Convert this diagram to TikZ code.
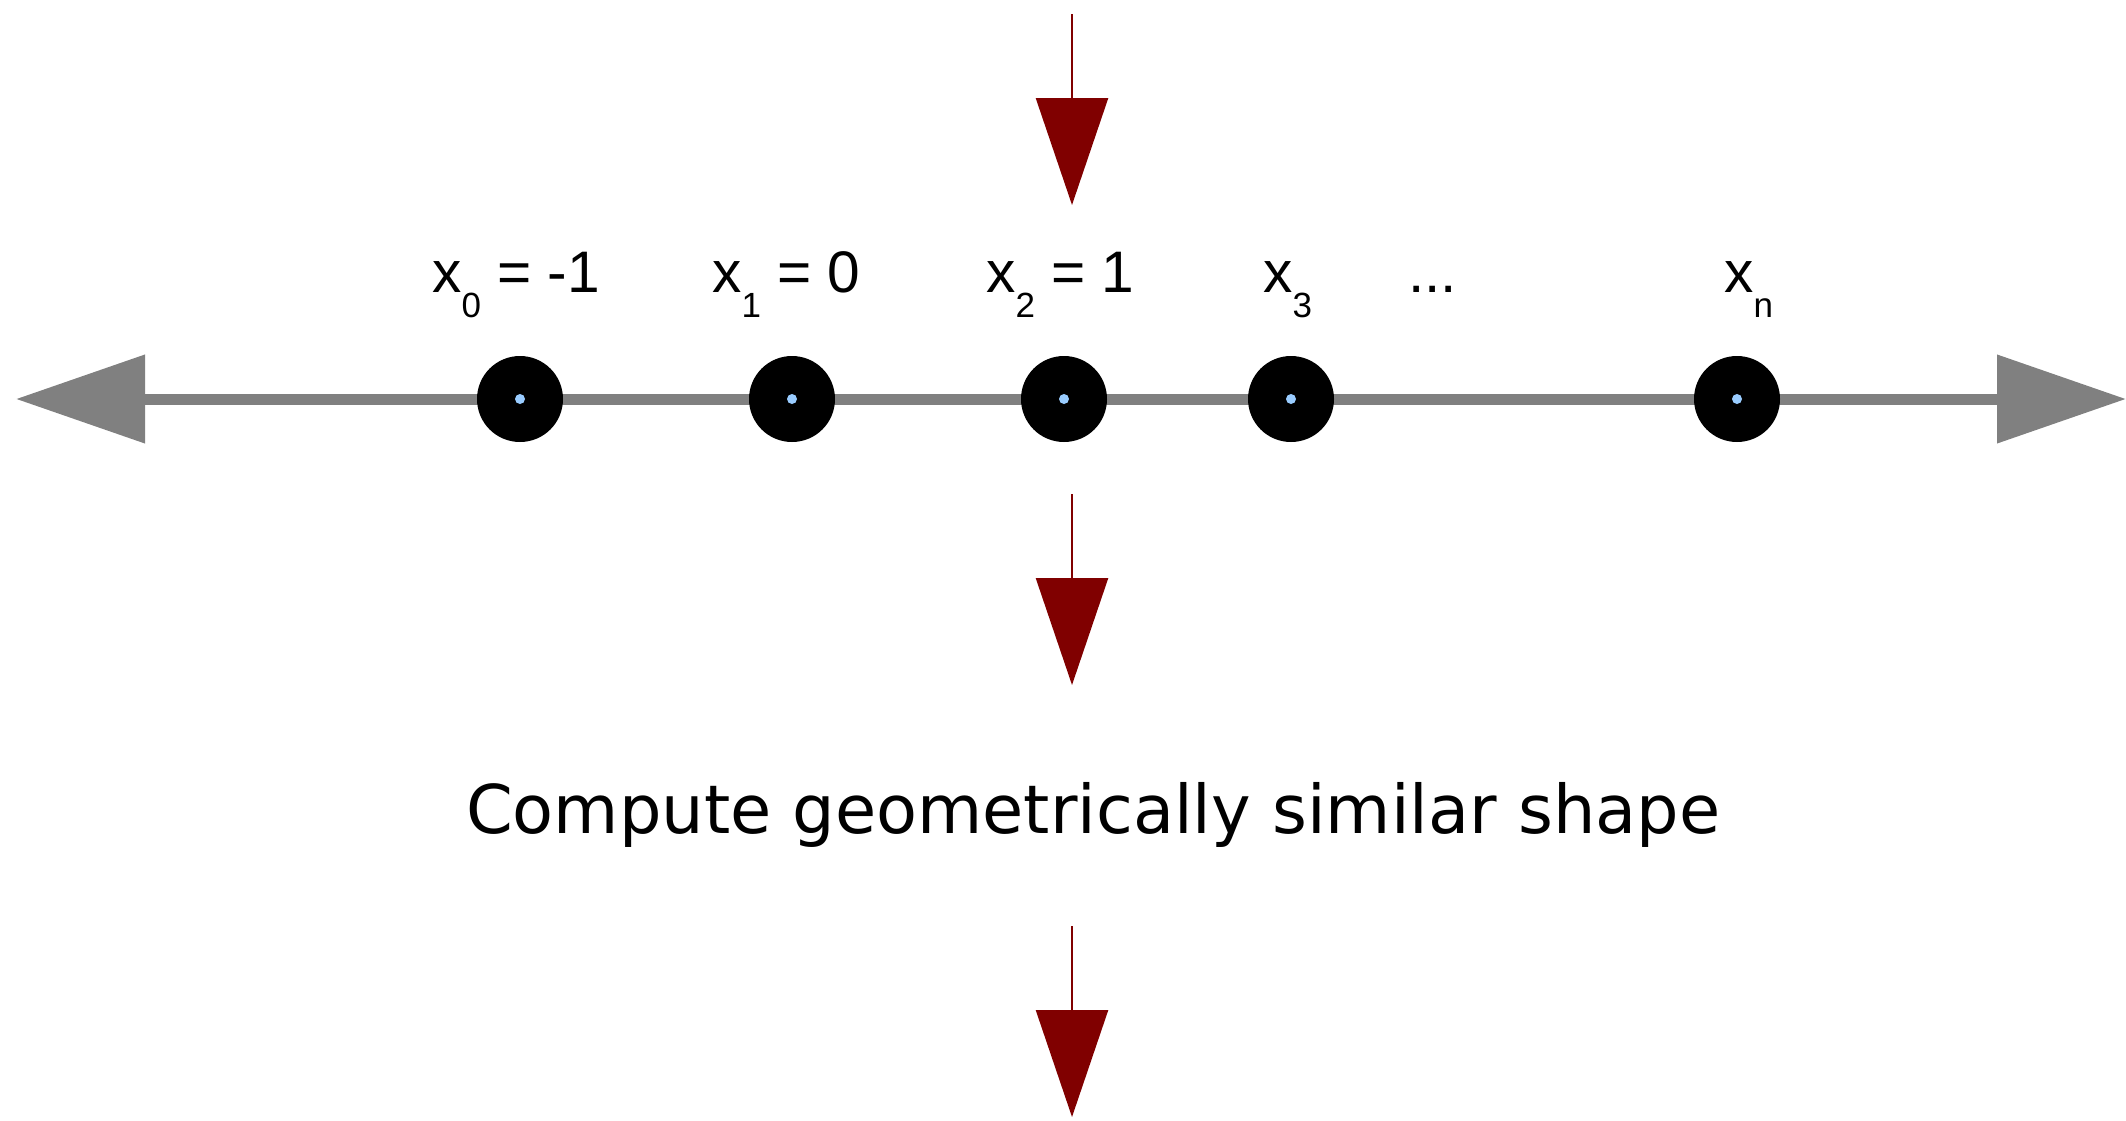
\documentclass[tikz,border=0pt]{standalone}
\usepackage{fontspec}
\usepackage{graphicx}
\setmainfont{Liberation Sans}
\newfontfamily\bigfont{DejaVu Sans}
\usetikzlibrary{arrows.meta}
\definecolor{axisgray}{HTML}{808080}
\definecolor{darkred}{HTML}{800000}
\definecolor{dotblue}{HTML}{99CCFF}
\newcommand{\lblfont}{\fontsize{58.6}{70}\selectfont}
\newcommand{\subtxt}[1]{\raisebox{-25pt}{\fontsize{35}{42}\selectfont #1}}
\tikzset{
  axisline/.style={draw=axisgray, line width=11pt,
    {Triangle[length=129pt,width=86pt]}-{Triangle[length=129pt,width=86pt]}},
  flowarrow/.style={draw=darkred, line width=2.5pt,
    -{Triangle[length=107pt,width=72pt]}},
  bigdot/.style={circle, fill=black, minimum size=86pt, inner sep=0pt},
  smalldot/.style={circle, fill=dotblue, minimum size=10pt, inner sep=0pt},
  lbl/.style={anchor=base west, inner sep=0pt, font=\lblfont},
}
\begin{document}
\begin{tikzpicture}[x=1pt, y=-1pt]
\useasboundingbox (0,0) rectangle (2126,1120);
% axis
\coordinate (axL) at (16,399);
\coordinate (axR) at (2126,399);
\draw[axisline] (axL) -- (axR);
% points
\foreach \n/\xx in {p0/520, p1/792, p2/1064, p3/1291, pn/1737} {
  \node[bigdot] (\n) at (\xx,399) {};
  \node[smalldot] (\n c) at (\xx,399) {};
}
% labels
\node[lbl] (l0) at (432,292) {x\subtxt{0} = -1};
\node[lbl] (l1) at (712,292) {x\subtxt{1} = 0};
\node[lbl] (l2) at (986,292) {x\subtxt{2} = 1};
\node[lbl] (l3) at (1263,292) {x\subtxt{3}};
\node[lbl] (ld) at (1408,292) {...};
\node[lbl] (ln) at (1724,292) {x\subtxt{n}};
% flow arrows
\coordinate (a1s) at (1072,14);
\coordinate (a1e) at (1072,205);
\coordinate (a2s) at (1072,494);
\coordinate (a2e) at (1072,685);
\coordinate (a3s) at (1072,926);
\coordinate (a3e) at (1072,1117);
\draw[flowarrow] (a1s) -- (a1e);
\draw[flowarrow] (a2s) -- (a2e);
\draw[flowarrow] (a3s) -- (a3e);
% caption
\node[anchor=base west, inner sep=0pt] (cap) at (466,833)
  {\resizebox{1254pt}{\height}{\bigfont\fontsize{67.2}{80}\selectfont Compute geometrically similar shape}};
\end{tikzpicture}
\end{document}
